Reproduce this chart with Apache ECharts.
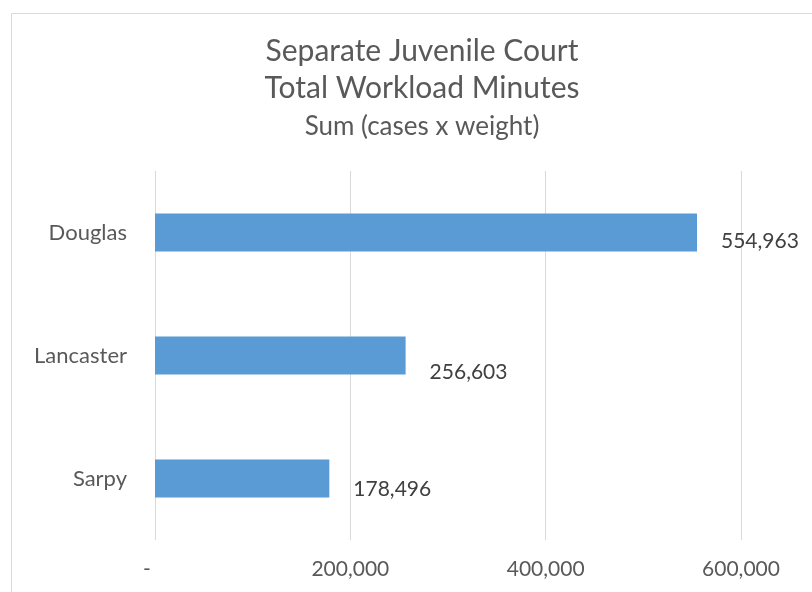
<!DOCTYPE html>
<html><head><meta charset="utf-8">
<script src="https://cdn.jsdelivr.net/npm/echarts@6/dist/echarts.min.js"></script>
<style>html,body{margin:0;padding:0;background:#fff}#c{width:812px;height:592px}</style>
</head><body><div id="c"></div>
<script>
const categories = ['Douglas', 'Lancaster', 'Sarpy'];
const values = [554963, 256603, 178496];
const titleLines = ['Separate Juvenile Court', 'Total Workload Minutes', 'Sum (cases x weight)'];
const xTicks = { min: 0, max: 600000, interval: 200000 };

// label vertical offsets (style only)
const labelDy = [9, 17, 11];

const FONT = 'Lato';
const chart = echarts.init(document.getElementById('c'));
const fmt = v => v === 0 ? '-   ' : v.toLocaleString('en-US');
chart.setOption({
  animation: false,
  backgroundColor: '#fff',
  graphic: [{ type: 'rect', shape: { x: 11.5, y: 13.5, width: 900, height: 700 }, style: { fill: 'none', stroke: '#d9d9d9', lineWidth: 1 } }],
  title: [
    { text: titleLines[0], left: 417, top: 31, textAlign: 'center', textStyle: { fontFamily: FONT, fontSize: 30, fontWeight: 'normal', color: '#595959' } },
    { text: titleLines[1], left: 417, top: 68, textAlign: 'center', textStyle: { fontFamily: FONT, fontSize: 30, fontWeight: 'normal', color: '#595959' } },
    { text: titleLines[2], left: 417, top: 109, textAlign: 'center', textStyle: { fontFamily: FONT, fontSize: 26, fontWeight: 'normal', color: '#595959' } }
  ],
  grid: { left: 155, right: 71, top: 171, bottom: 52, containLabel: false },
  xAxis: {
    type: 'value', min: xTicks.min, max: xTicks.max, interval: xTicks.interval,
    axisLine: { show: false }, axisTick: { show: false },
    splitLine: { lineStyle: { color: '#d9d9d9', width: 1 } },
    axisLabel: { formatter: fmt, margin: 19, fontFamily: FONT, fontSize: 21, color: '#595959' }
  },
  yAxis: {
    type: 'category', data: categories, inverse: true,
    axisLine: { show: false }, axisTick: { show: false },
    axisLabel: { margin: 28, fontFamily: FONT, fontSize: 22, color: '#595959' }
  },
  series: [{
    type: 'bar', barWidth: 38,
    data: values.map((v, i) => ({ value: v, label: { offset: [0, labelDy[i]] } })),
    itemStyle: { color: '#5b9bd5' },
    label: { show: true, position: 'right', distance: 24, formatter: p => fmt(p.value), fontFamily: FONT, fontSize: 21, color: '#404040' }
  }]
});
</script></body></html>
